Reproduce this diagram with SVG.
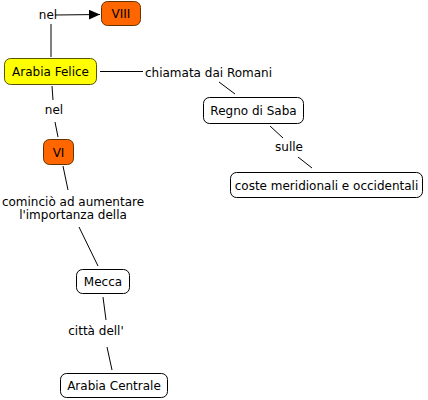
<svg xmlns="http://www.w3.org/2000/svg" width="428" height="400" viewBox="0 0 428 400">
<style>
text{font-family:"DejaVu Sans",Verdana,sans-serif;font-size:12px;fill:#000;text-anchor:middle}
.n{fill:#fff;stroke:#000;stroke-width:1}
.o{fill:#ff6600;stroke:#663300;stroke-width:1}
.y{fill:#ffff00;stroke:#555500;stroke-width:1}
.c line{stroke:#000;stroke-width:1}
</style>
<defs>
<marker id="ah" markerWidth="12" markerHeight="10" refX="11" refY="5" orient="auto" markerUnits="userSpaceOnUse">
<path d="M0,0 L11,5 L0,10 z" fill="#000"/>
</marker>
</defs>
<rect width="428" height="400" fill="#fff"/>
<g id="connectors" class="c">
<line x1="51" y1="57" x2="51" y2="24"/>
<line x1="55" y1="15" x2="100" y2="14.5" marker-end="url(#ah)"/>
<line x1="100" y1="71.5" x2="143" y2="71.5"/>
<line x1="219" y1="82" x2="235" y2="94"/>
<line x1="270" y1="126" x2="283" y2="138"/>
<line x1="298" y1="157" x2="312" y2="168"/>
<line x1="52" y1="86" x2="53" y2="100"/>
<line x1="55" y1="122" x2="58" y2="137"/>
<line x1="63" y1="166" x2="68" y2="190"/>
<line x1="79" y1="227" x2="98" y2="266"/>
<line x1="103" y1="297" x2="106" y2="320"/>
<line x1="107" y1="347" x2="112" y2="370"/>
</g>
<g id="labels">
<text x="48" y="19">nel</text>
<text x="208.5" y="77">chiamata dai Romani</text>
<text x="54" y="114">nel</text>
<text x="289" y="151">sulle</text>
<text x="73" y="206">cominciò ad aumentare</text>
<text x="73" y="219">l'importanza della</text>
<text x="96" y="335">città dell'</text>
</g>
<g id="node-viii"><rect class="o" x="101.5" y="1.5" width="39" height="24" rx="6"/><text x="121" y="18">VIII</text></g>
<g id="node-arabia-felice"><rect class="y" x="4.5" y="58.5" width="92" height="26" rx="6"/><text x="50.5" y="76">Arabia Felice</text></g>
<g id="node-vi"><rect class="o" x="43.5" y="139.5" width="30" height="25" rx="6"/><text x="58.5" y="156.5">VI</text></g>
<g id="node-regno"><rect class="n" x="203.5" y="97.5" width="100" height="26" rx="6"/><text x="253.5" y="115">Regno di Saba</text></g>
<g id="node-coste"><rect class="n" x="230.5" y="172.5" width="192" height="25" rx="6"/><text x="326.5" y="189.5">coste meridionali e occidentali</text></g>
<g id="node-mecca"><rect class="n" x="76.5" y="269.5" width="53" height="24" rx="6"/><text x="103" y="286">Mecca</text></g>
<g id="node-arabia-centrale"><rect class="n" x="60.5" y="373.5" width="107" height="24" rx="6"/><text x="114" y="390">Arabia Centrale</text></g>
</svg>
